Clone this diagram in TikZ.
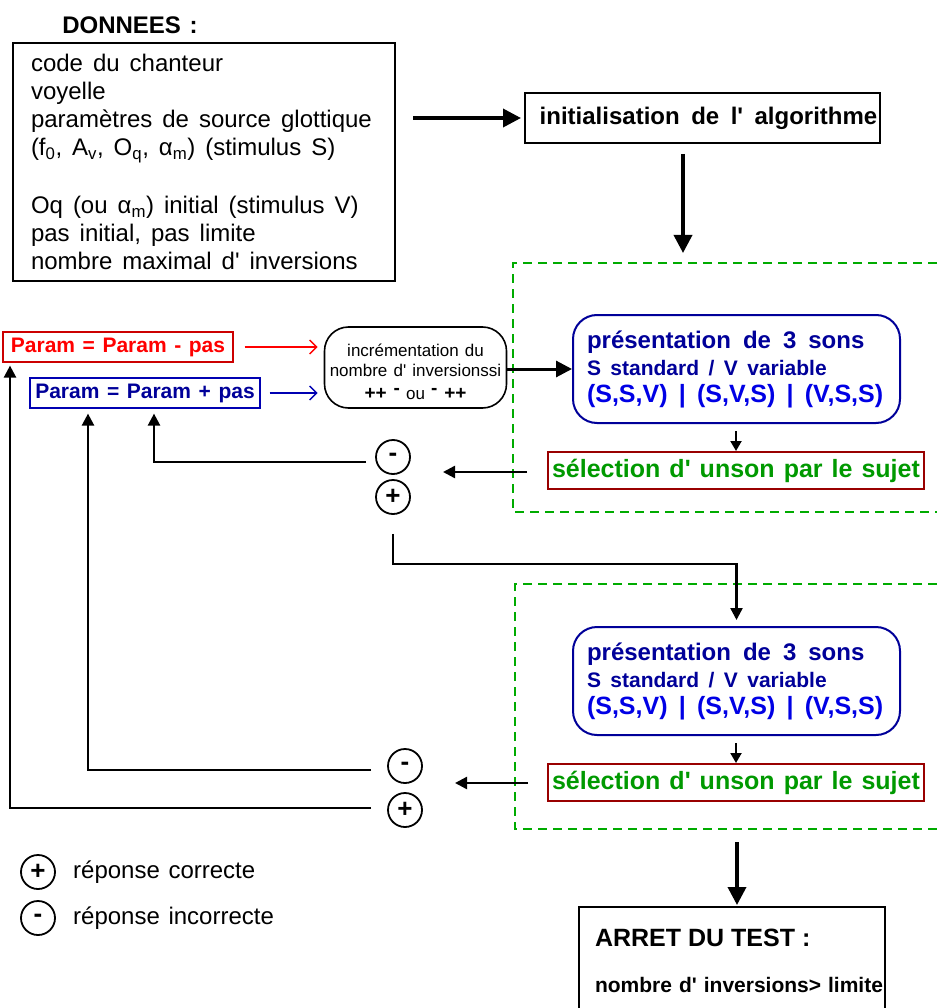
\documentclass[tikz,border=0pt]{standalone}
\usepackage{fontspec}
\setmainfont{Liberation Sans}[WordSpace=1.3]
\usetikzlibrary{arrows.meta}
\newcommand{\ap}{\textquotesingle}

\begin{document}
\begin{tikzpicture}[x=1pt, y=-1pt, >={Triangle[length=12pt,width=12pt]},
	box/.style={draw, line width=2pt, inner sep=0pt},
	rbox/.style={draw, line width=2pt, rounded corners=24pt, inner sep=0pt},
	conn/.style={line width=2.4pt},
	heavy/.style={line width=3.6pt, -{Triangle[length=18pt,width=18pt]}},
	barb/.style={line width=1.4pt, -{Straight Barb[length=7pt,width=14pt]}},
	sign/.style={draw, circle, line width=1.8pt, minimum size=34pt, inner sep=0pt, font=\fontsize{26}{26}\selectfont\bfseries},
	zone/.style={green!67!black, line width=2pt, dash pattern=on 9pt off 6pt}]
	\useasboundingbox (0,0) rectangle (937,1008);
	\node[font=\fontsize{24}{28}\selectfont\bfseries] (titre) at (130,25) {DONNEES :};
	\node[box, minimum width=382pt, minimum height=238pt, text width=346pt, align=left, font=\fontsize{24}{28}\selectfont] (donnees) at (204,162) {\spaceskip=10pt\relax code du chanteur\\voyelle\\paramètres de source glottique\\(f\textsubscript{0}, A\textsubscript{v}, O\textsubscript{q}, α\textsubscript{m}) (stimulus S)\\[30pt]Oq (ou α\textsubscript{m}) initial (stimulus V)\\pas initial, pas limite\\nombre maximal d\ap{} inversions};
	\node[box, minimum width=355pt, minimum height=50pt, font=\fontsize{24}{28}\selectfont\bfseries] (init) at (702.5,118) {\spaceskip=11.5pt\relax\hspace*{12pt}initialisation de l\ap{} algorithme};
	\draw[zone] (937,263) -- (513,263) -- (513,512) -- (937,512);
	\draw[zone] (937,584) -- (515,584) -- (515,829) -- (937,829);
	\node[rbox, draw=blue!60!black, text=blue!60!black, minimum width=327pt, minimum height=108pt, text width=299pt, align=left, font=\bfseries\fontsize{21}{27}\selectfont] (pres1) at (736.5,369) {{\fontsize{24}{27}\selectfont\spaceskip=.5em\relax présentation de 3 sons}\\{\spaceskip=.45em\relax S standard / V variable}\\{\color{blue!90!black}\fontsize{25}{27}\selectfont\spaceskip=.45em\relax (S,S,V) | (S,V,S) | (V,S,S)}};
	\node[box, draw=red!60!black, text=green!60!black, minimum width=376pt, minimum height=37pt, font=\bfseries\fontsize{25}{28}\selectfont] (sel1) at (736,470.5) {sélection d\ap{} unson par le sujet};
	\node[rbox, draw=blue!60!black, text=blue!60!black, minimum width=327pt, minimum height=108pt, text width=299pt, align=left, font=\bfseries\fontsize{21}{27}\selectfont] (pres2) at (736.5,681) {{\fontsize{24}{27}\selectfont\spaceskip=.5em\relax présentation de 3 sons}\\{\spaceskip=.45em\relax S standard / V variable}\\{\color{blue!90!black}\fontsize{25}{27}\selectfont\spaceskip=.45em\relax (S,S,V) | (S,V,S) | (V,S,S)}};
	\node[box, draw=red!60!black, text=green!60!black, minimum width=376pt, minimum height=37pt, font=\bfseries\fontsize{25}{28}\selectfont] (sel2) at (736,782.5) {sélection d\ap{} unson par le sujet};
	\node[box, line width=1.2pt, draw=red!80!black, text=red, minimum width=230pt, minimum height=30pt, font=\bfseries\fontsize{21}{24}\selectfont] (pmoins) at (118,347) {Param = Param - pas};
	\node[box, line width=1.2pt, draw=blue!70!black, text=blue!60!black, minimum width=230pt, minimum height=30pt, font=\bfseries\fontsize{21}{24}\selectfont] (pplus) at (145,393) {Param = Param + pas};
	\node[rbox, line width=1.6pt, minimum width=182pt, minimum height=81pt] (incr) at (415.5,367.5) {};
	\node[align=center, font=\fontsize{17}{20}\selectfont] (incrtxt) at ([yshift=-4pt]incr.center) {incrémentation du\\nombre d\ap{} inversionssi\\[3pt]{\fontsize{19}{20}\selectfont\bfseries ++ \raisebox{5pt}{-}} ou {\fontsize{19}{20}\selectfont\bfseries\raisebox{5pt}{-} ++}};
	\node[sign] (m1) at (393,457) {-};
	\node[sign] (p1) at (393,497) {+};
	\node[sign] (m2) at (405,766) {-};
	\node[sign] (p2) at (405,810) {+};
	\node[box, minimum width=306pt, minimum height=108pt, anchor=north, text width=290pt, align=left, font=\bfseries\fontsize{21}{30}\selectfont] (arret) at (732,906) {\hspace*{8pt}{\fontsize{25}{30}\selectfont ARRET DU TEST :}\\[16pt]\hspace*{8pt}\mbox{nombre d\ap{} inversions> limite}};
	\node[sign] (lplus) at (38,872) {+};
	\node[anchor=west, inner sep=0pt, font=\fontsize{24}{28}\selectfont] (lplustxt) at (73,872) {réponse correcte};
	\node[sign] (lmoins) at (38,918) {-};
	\node[anchor=west, inner sep=0pt, font=\fontsize{24}{28}\selectfont] (lmoinstxt) at (73,918) {réponse incorrecte};
	\coordinate (z1) at (683,262);
	\coordinate (s1) at (527,472);
	\coordinate (t1) at (443,472);
	\coordinate (s2) at (528,783);
	\coordinate (t2) at (455,783);
	\coordinate (z2) at (737,842);
	\draw[heavy, shorten <=17pt, shorten >=3pt] (donnees.east |- init.west) -- (init.west);
	\draw[heavy, shorten <=10pt, shorten >=9pt] (init.south -| z1) -- (z1);
	\draw[conn, line width=3pt, -{Triangle[length=16pt,width=16pt]}] (incr.east |- pres1.west) -- (pres1.west);
	\draw[barb, red, shorten <=11pt, shorten >=6pt] (pmoins.east) -- (pmoins.east -| incr.west);
	\draw[barb, blue!70!black, shorten <=9pt, shorten >=6pt] (pplus.east) -- (pplus.east -| incr.west);
	\draw[conn, line width=2pt, -{Triangle[length=10pt,width=11pt]}, shorten <=7pt] (pres1.south -| sel1.north) -- (sel1.north);
	\draw[conn, line width=2pt, -{Triangle[length=10pt,width=11pt]}, shorten <=7pt] (pres2.south -| sel2.north) -- (sel2.north);
	\draw[conn, ->] (s1) -- (t1);
	\draw[conn, ->] (s2) -- (t2);
	\draw[conn, ->, shorten >=5pt] ([xshift=-9pt,yshift=-5pt]m1.west) -| ([xshift=9pt]pplus.south);
	\draw[conn, ->, shorten <=19pt, shorten >=6pt] (p1.south) -- ++(0,49) -| (pres2.north);
	\draw[conn, ->, shorten >=5pt] ([xshift=-16pt,yshift=-4pt]m2.west) -| ([xshift=-57pt]pplus.south);
	\draw[conn, ->, shorten >=3pt] ([xshift=-16pt,yshift=2pt]p2.west) -| ([xshift=-108pt]pmoins.south);
	\draw[heavy, shorten >=1pt] (z2) -- (z2 |- arret.north);
\end{tikzpicture}
\end{document}
